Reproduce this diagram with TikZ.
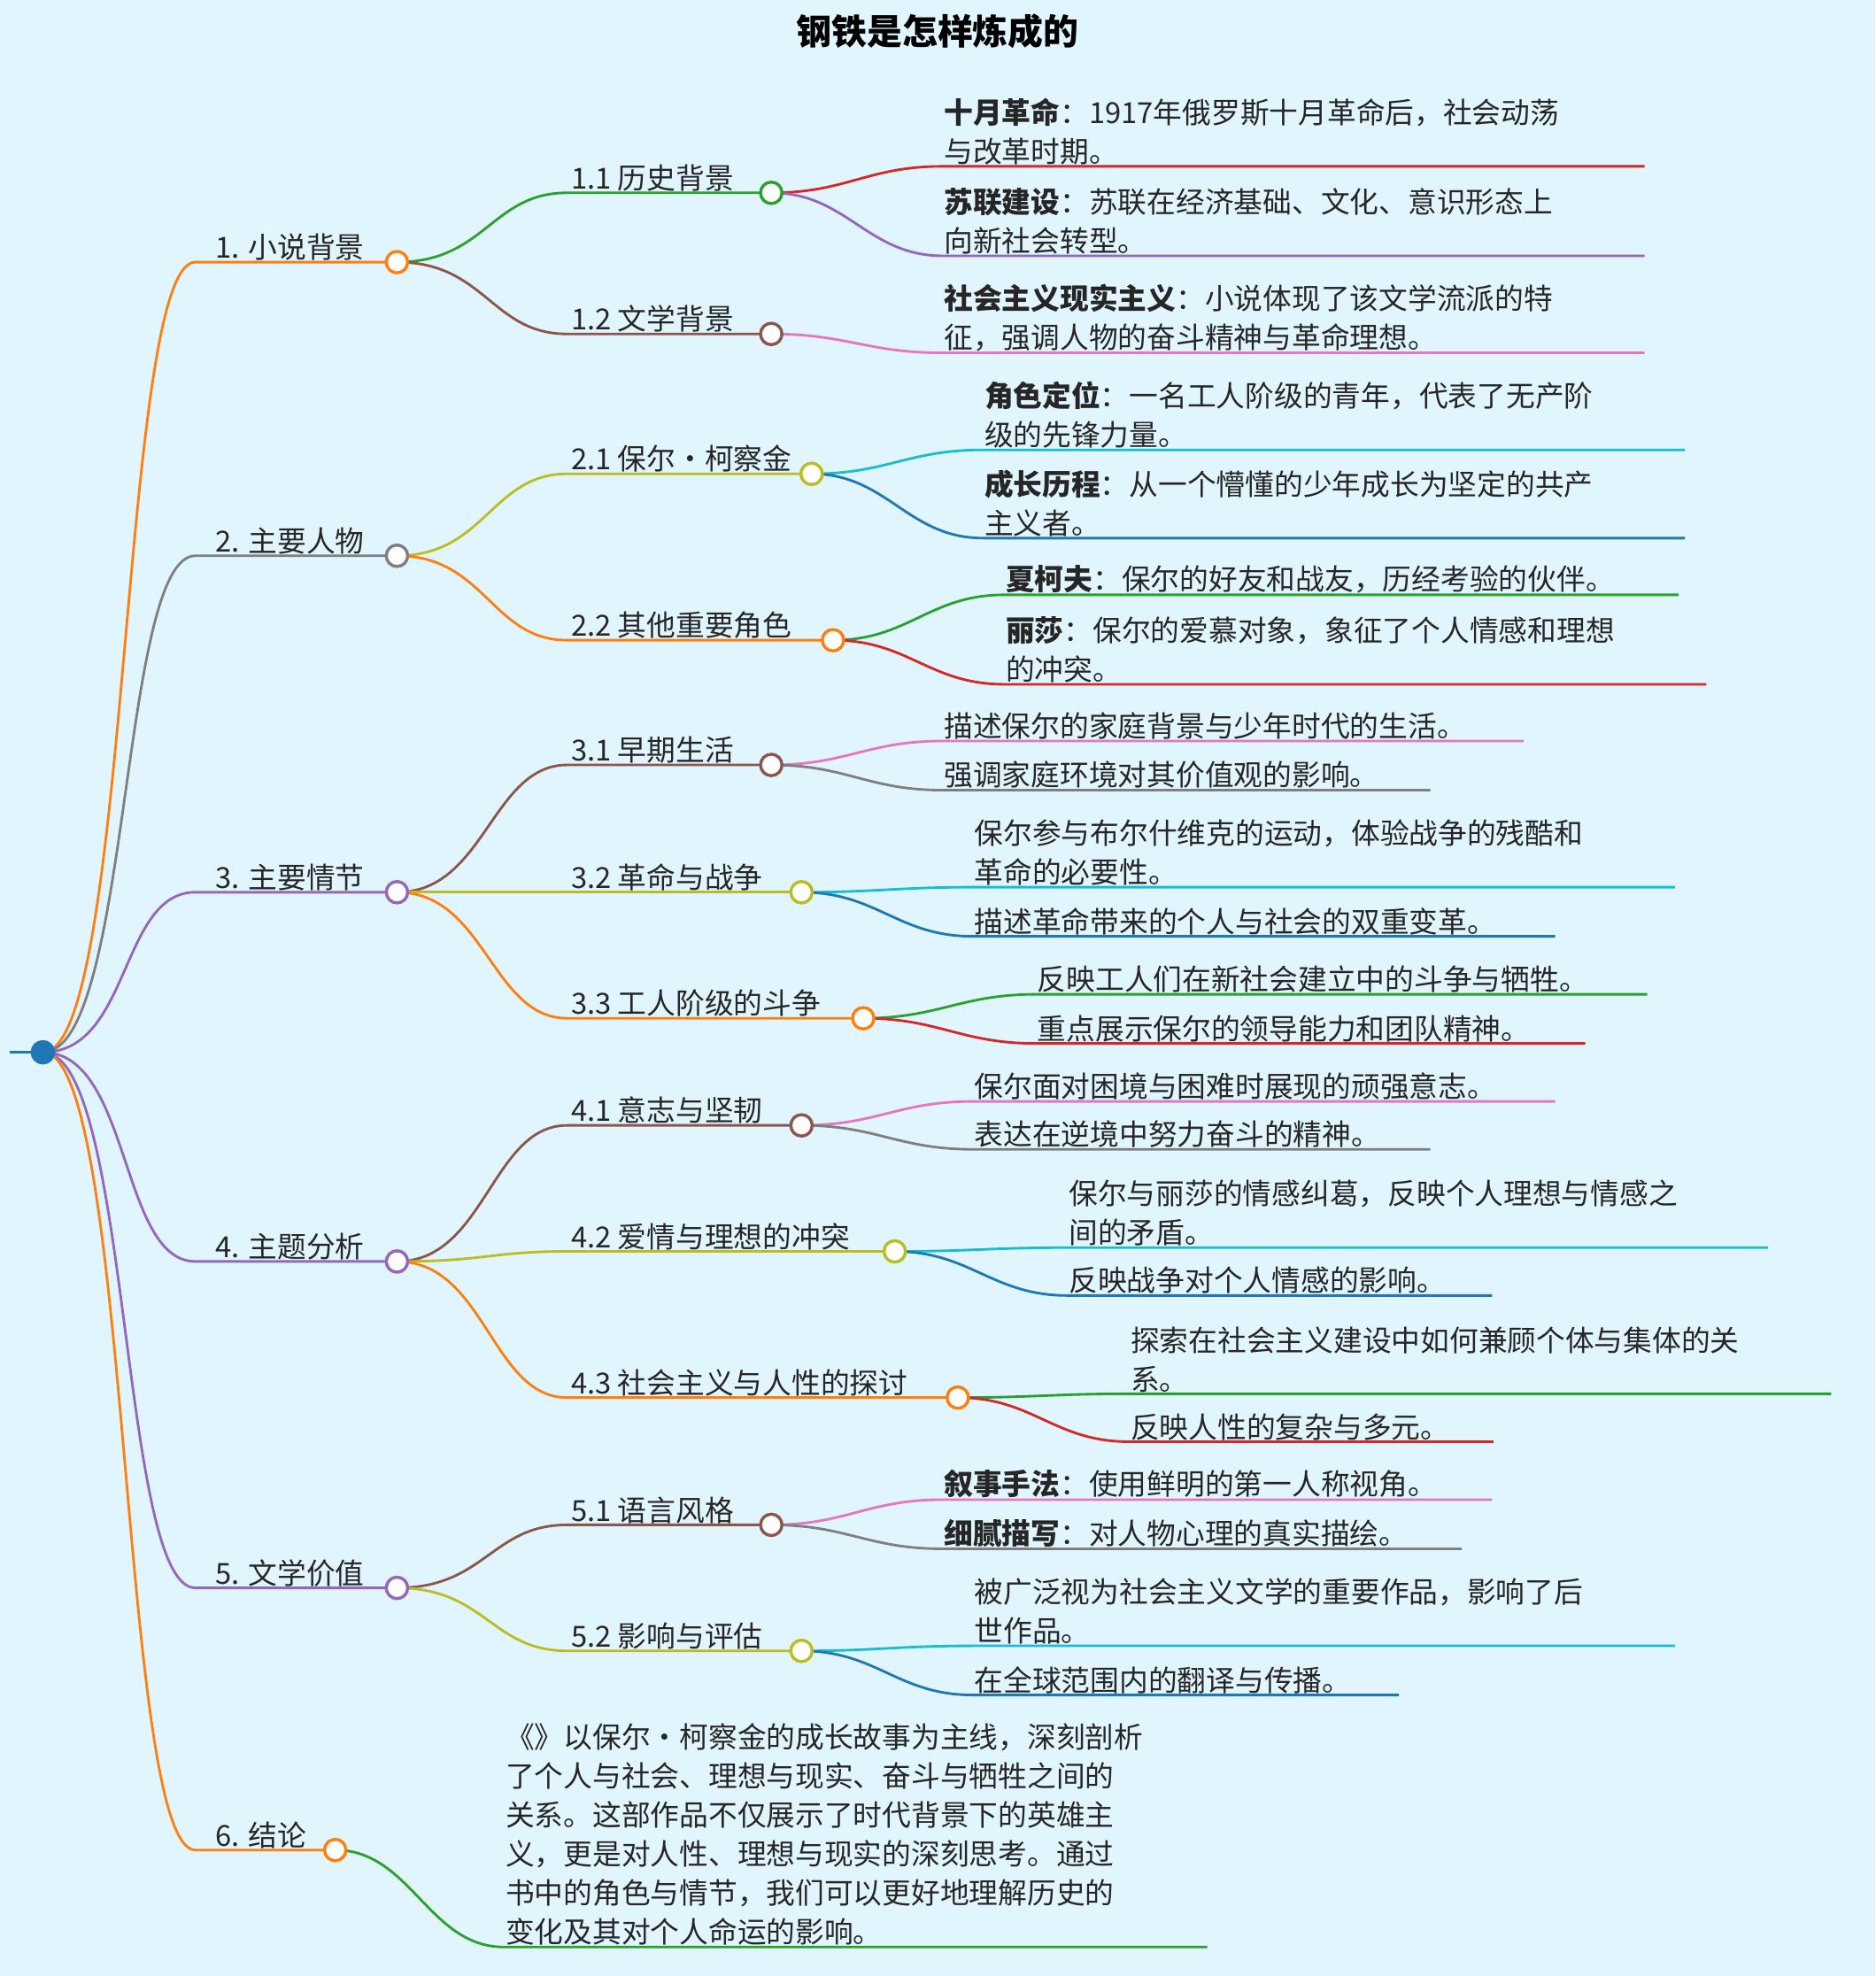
\documentclass[tikz,border=0pt]{standalone}
\usepackage{fontspec}
\setmainfont{Noto Sans CJK SC}
\begin{document}
\begin{tikzpicture}[x=1pt,y=-1pt,
 lw/.style={line width=2pt},
 lt/.style={anchor=south west,inner sep=1pt,align=left,font=\fontsize{23}{31}\selectfont,text=black!85},
 dot/.style={circle,draw,line width=2.4pt,fill=white,minimum size=17pt,inner sep=0pt}]
\definecolor{cO}{HTML}{FF7F0E}\definecolor{cG}{HTML}{2CA02C}\definecolor{cB}{HTML}{8C564B}
\definecolor{cP}{HTML}{9467BD}\definecolor{cK}{HTML}{E377C2}\definecolor{cY}{HTML}{7F7F7F}
\definecolor{cL}{HTML}{BCBD22}\definecolor{cC}{HTML}{17BECF}\definecolor{cU}{HTML}{1F77B4}
\definecolor{cR}{HTML}{D62728}
\fill[cyan!12] (0,0) rectangle (1488,1568);
\useasboundingbox (0,0) rectangle (1488,1568);
\node[font=\fontsize{28}{30}\selectfont\bfseries] (title) at (744,25) {钢铁是怎样炼成的};
\coordinate (R) at (34,835);
\coordinate (Rl) at (8,835);
\draw[cU,lw] (Rl) -- (R);
% level 1: name, y, circle x, color, text
\newcommand\lone[5]{\coordinate (#1s) at (155,#2);\coordinate (#1) at (#3,#2);
 \draw[#4,lw] (R) .. controls +(70,0) and +(-60,0) .. (#1s) -- (#1);
 \node[lt,anchor=south west] (#1t) at (170,#2) {#5};}
\newcommand\ltwo[6]{\coordinate (#1s) at (450,#3);\coordinate (#1) at (#4,#3);
 \draw[#5,lw] (#2) .. controls +(70,0) and +(-60,0) .. (#1s) -- (#1);
 \node[lt] (#1t) at (452,#3) {#6};}
\newcommand\leaf[7]{\coordinate (#1s) at (#3,#4);\coordinate (#1e) at (#5,#4);
 \draw[#6,lw] (#2) .. controls +(60,0) and +(-60,0) .. (#1s) -- (#1e);
 \node[lt] (#1t) at (#3,#4) {#7};}
\lone{a}{208}{315}{cO}{1. 小说背景}
\lone{b}{441}{315}{cY}{2. 主要人物}
\lone{c}{708}{315}{cP}{3. 主要情节}
\lone{d}{1001}{315}{cP}{4. 主题分析}
\lone{e}{1260}{315}{cP}{5. 文学价值}
\lone{f}{1468}{266}{cO}{6. 结论}
\ltwo{a1}{a}{153}{612}{cG}{1.1 历史背景}
\ltwo{a2}{a}{265}{612}{cB}{1.2 文学背景}
\ltwo{b1}{b}{376}{644}{cL}{2.1 保尔·柯察金}
\ltwo{b2}{b}{508}{661}{cO}{2.2 其他重要角色}
\ltwo{c1}{c}{607}{612}{cB}{3.1 早期生活}
\ltwo{c2}{c}{708}{636}{cL}{3.2 革命与战争}
\ltwo{c3}{c}{808}{685}{cO}{3.3 工人阶级的斗争}
\ltwo{d1}{d}{893}{636}{cB}{4.1 意志与坚韧}
\ltwo{d2}{d}{993}{710}{cL}{4.2 爱情与理想的冲突}
\ltwo{d3}{d}{1109}{760}{cO}{4.3 社会主义与人性的探讨}
\ltwo{e1}{e}{1210}{612}{cB}{5.1 语言风格}
\ltwo{e2}{e}{1310}{636}{cL}{5.2 影响与评估}
\leaf{x1}{a1}{748}{132}{1305}{cR}{\textbf{十月革命}：1917年俄罗斯十月革命后，社会动荡\\与改革时期。}
\leaf{x2}{a1}{748}{203}{1305}{cP}{\textbf{苏联建设}：苏联在经济基础、文化、意识形态上\\向新社会转型。}
\leaf{x3}{a2}{748}{280}{1305}{cK}{\textbf{社会主义现实主义}：小说体现了该文学流派的特\\征，强调人物的奋斗精神与革命理想。}
\leaf{x4}{b1}{780}{357}{1337}{cC}{\textbf{角色定位}：一名工人阶级的青年，代表了无产阶\\级的先锋力量。}
\leaf{x5}{b1}{780}{427}{1337}{cU}{\textbf{成长历程}：从一个懵懂的少年成长为坚定的共产\\主义者。}
\leaf{x6}{b2}{797}{472}{1332}{cG}{\textbf{夏柯夫}：保尔的好友和战友，历经考验的伙伴。}
\leaf{x7}{b2}{797}{543}{1354}{cR}{\textbf{丽莎}：保尔的爱慕对象，象征了个人情感和理想\\的冲突。}
\leaf{x8}{c1}{748}{588}{1209}{cK}{描述保尔的家庭背景与少年时代的生活。}
\leaf{x9}{c1}{748}{627}{1135}{cY}{强调家庭环境对其价值观的影响。}
\leaf{x10}{c2}{772}{704}{1329}{cC}{保尔参与布尔什维克的运动，体验战争的残酷和\\革命的必要性。}
\leaf{x11}{c2}{772}{743}{1234}{cU}{描述革命带来的个人与社会的双重变革。}
\leaf{x12}{c3}{822}{789}{1307}{cG}{反映工人们在新社会建立中的斗争与牺牲。}
\leaf{x13}{c3}{822}{828}{1258}{cR}{重点展示保尔的领导能力和团队精神。}
\leaf{x14}{d1}{772}{874}{1234}{cK}{保尔面对困境与困难时展现的顽强意志。}
\leaf{x15}{d1}{772}{912}{1135}{cY}{表达在逆境中努力奋斗的精神。}
\leaf{x16}{d2}{847}{990}{1403}{cC}{保尔与丽莎的情感纠葛，反映个人理想与情感之\\间的矛盾。}
\leaf{x17}{d2}{847}{1028}{1184}{cU}{反映战争对个人情感的影响。}
\leaf{x18}{d3}{896}{1106}{1453}{cG}{探索在社会主义建设中如何兼顾个体与集体的关\\系。}
\leaf{x19}{d3}{896}{1144}{1185}{cR}{反映人性的复杂与多元。}
\leaf{x20}{e1}{748}{1190}{1184}{cK}{\textbf{叙事手法}：使用鲜明的第一人称视角。}
\leaf{x21}{e1}{748}{1229}{1160}{cY}{\textbf{细腻描写}：对人物心理的真实描绘。}
\leaf{x22}{e2}{772}{1306}{1329}{cC}{被广泛视为社会主义文学的重要作品，影响了后\\世作品。}
\leaf{x23}{e2}{772}{1345}{1110}{cU}{在全球范围内的翻译与传播。}
\leaf{x24}{f}{400}{1545}{958}{cG}{《》以保尔·柯察金的成长故事为主线，深刻剖析\\了个人与社会、理想与现实、奋斗与牺牲之间的\\关系。这部作品不仅展示了时代背景下的英雄主\\义，更是对人性、理想与现实的深刻思考。通过\\书中的角色与情节，我们可以更好地理解历史的\\变化及其对个人命运的影响。}
\node[dot,cU] at (R) {};
\foreach \n/\c in {a/cO,b/cY,c/cP,d/cP,e/cP,f/cO,a1/cG,a2/cB,b1/cL,b2/cO,c1/cB,c2/cL,c3/cO,d1/cB,d2/cL,d3/cO,e1/cB,e2/cL}
 \node[dot,draw=\c] at (\n) {};
\end{tikzpicture}
\end{document}
